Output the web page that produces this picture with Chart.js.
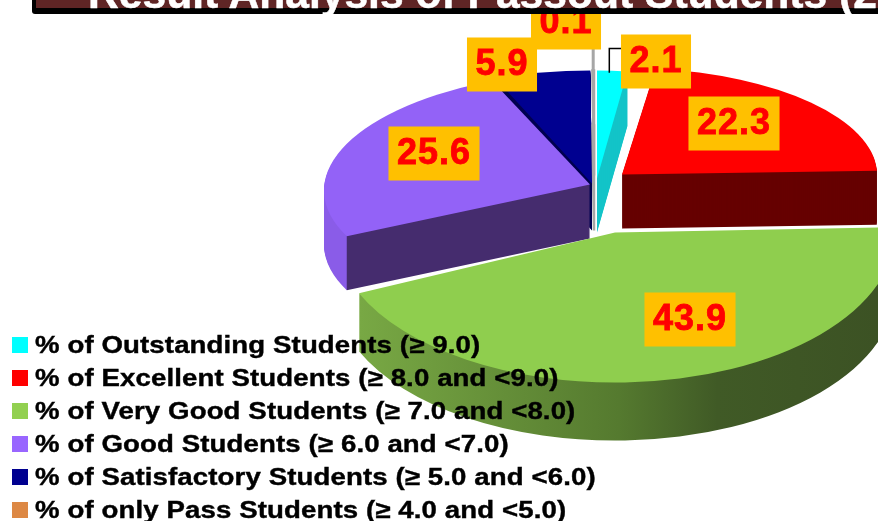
<!DOCTYPE html>
<html>
<head>
<meta charset="utf-8">
<script src="https://cdn.jsdelivr.net/npm/chart.js@4"></script>
<style>
    html, body { margin: 0; background: #fff; overflow: hidden; }
    #wrap { position: relative; width: 878px; height: 521px; overflow: hidden; font-family: "Liberation Sans", Arial, sans-serif; }
    canvas { position: absolute; left: 0; top: 0; }
    #banner { position: absolute; left: 32px; top: 0; width: 846px; height: 14px; background: #000; border-bottom-left-radius: 3px; overflow: hidden; }
    #bannerFill { position: absolute; left: 4px; top: 0; right: 0; height: 8px; background: #5f2525; }
    #title { position: absolute; left: 56px; top: -32px; font-size: 42.6px; line-height: 50px; font-weight: bold; color: #fff; white-space: nowrap; -webkit-text-stroke: 0.5px #fff; }
    #legend { position: absolute; left: 0; top: 0; }
    .row { position: absolute; left: 35px; font-size: 24px; line-height: 33px; height: 33px; font-weight: bold; color: #000; white-space: nowrap; letter-spacing: 0.1px; transform: scaleX(1.15); transform-origin: left center; -webkit-text-stroke: 0.4px #000; }
    .box { position: absolute; left: 12px; width: 16px; height: 16px; }
</style>
</head>
<body>
<div id="wrap">
    <canvas id="grafico" width="878" height="521"></canvas>
    <div id="banner"><div id="bannerFill"></div><div id="title">Result Analysis of Passout Students (2</div></div>
    <div id="legend"></div>
</div>
<script>
const categorias = [
    '% of Outstanding Students (≥ 9.0)',
    '% of Excellent Students (≥ 8.0 and <9.0)',
    '% of Very Good Students (≥ 7.0 and <8.0)',
    '% of Good Students (≥ 6.0 and <7.0)',
    '% of Satisfactory Students (≥ 5.0 and <6.0)',
    '% of only Pass Students (≥ 4.0 and <5.0)'
];
const valores = [2.1, 22.3, 43.9, 25.6, 5.9, 0.1];

const coloresLeyenda = ['#00ffff', '#ff0000', '#92d050', '#9966ff', '#000090', '#dd8844'];
const coloresCara = ['#00ffff', '#ff0000', '#8fce4e', '#9362f7', '#000090', '#a6a6a6'];
const coloresLado = ['#14c4c8', '#660000', '#5f8a35', '#452c6e', '#000050', '#8a8a8a'];

// how each slice sits in the 3D look: shift from the pie centre, ellipse size, skew, thickness
const vistas = [
    { dx: -3, dy: -82, rx: 232, ry: 108, skew: 0, alto: 54 },
    { dx: 22, dy: -86, rx: 255, ry: 107, skew: 0, alto: 54 },
    { dx: 15, dy: -28, rx: 280, ry: 150, skew: 0, alto: 58 },
    { dx: -10, dy: -76, rx: 266, ry: 114, skew: -6, alto: 54 },
    { dx: -8, dy: -77, rx: 262, ry: 113, skew: 0, alto: 47 },
    { dx: -6, dy: -85, rx: 255, ry: 105, skew: 0, alto: 55 }
];
const ordenDibujo = [0, 1, 4, 5, 3, 2];

// label box centre, measured from the slice apex
const etiquetas = [[59, -117], [112, -51], [75, 87], [-156, -31], [-90, -119], [-28, -153]];

function trazarPorcion(ctx, el, v, bajada) {
    const r = el.outerRadius;
    ctx.save();
    ctx.translate(el.x + v.dx, el.y + v.dy + bajada);
    ctx.transform(v.rx / r, v.skew / r, 0, v.ry / r, 0, 0);
    ctx.beginPath();
    ctx.moveTo(0, 0);
    ctx.arc(0, 0, r, el.startAngle, el.endAngle);
    ctx.closePath();
    ctx.restore();
}

function puntoBorde(el, v) {
    const mid = (el.startAngle + el.endAngle) / 2;
    return {
        x: el.x + v.dx + Math.cos(mid) * v.rx,
        y: el.y + v.dy + Math.sin(mid) * v.ry + Math.cos(mid) * v.skew
    };
}

function colorLado(ctx, i) {
    if (i === 2) {
        const g = ctx.createLinearGradient(360, 0, 878, 0);
        g.addColorStop(0, '#78a844');
        g.addColorStop(0.5, '#557a2f');
        g.addColorStop(0.69, '#405a26');
        g.addColorStop(1, '#3c5224');
        return g;
    }
    if (i === 3) {
        // the curved rim of this slice is lit, only the cut face is dark
        const g = ctx.createLinearGradient(320, 0, 360, 0);
        g.addColorStop(0, '#8a5ce8');
        g.addColorStop(0.66, '#8a5ce8');
        g.addColorStop(0.67, coloresLado[3]);
        g.addColorStop(1, coloresLado[3]);
        return g;
    }
    return coloresLado[i];
}

const pie3d = {
    id: 'pie3d',
    beforeDatasetsDraw(chart) {
        const ctx = chart.ctx;
        const arcos = chart.getDatasetMeta(0).data;

        ordenDibujo.forEach(i => {
            const el = arcos[i];
            const v = vistas[i];
            ctx.fillStyle = colorLado(ctx, i);
            for (let d = v.alto; d > 0; d--) {
                trazarPorcion(ctx, el, v, d);
                ctx.fill();
            }
            trazarPorcion(ctx, el, v, 0);
            ctx.fillStyle = coloresCara[i];
            ctx.fill();
            if (i === 5) {
                ctx.strokeStyle = coloresCara[i];
                ctx.lineWidth = 2.5;
                ctx.stroke();
                trazarPorcion(ctx, el, v, v.alto);
                ctx.stroke();
            }
        });

        // leader lines
        const b0 = puntoBorde(arcos[0], vistas[0]);
        const c0 = [arcos[0].x + vistas[0].dx + etiquetas[0][0], arcos[0].y + vistas[0].dy + etiquetas[0][1]];
        ctx.strokeStyle = '#000';
        ctx.lineWidth = 1.5;
        ctx.beginPath();
        ctx.moveTo(b0.x - 3, b0.y + 2);
        ctx.lineTo(b0.x - 3, c0[1] - 13);
        ctx.lineTo(c0[0] - 35, c0[1] - 13);
        ctx.stroke();

        const b5 = puntoBorde(arcos[5], vistas[5]);
        ctx.strokeStyle = '#a6a6a6';
        ctx.lineWidth = 3;
        ctx.beginPath();
        ctx.moveTo(b5.x, b5.y);
        ctx.lineTo(b5.x, 49);
        ctx.stroke();

        // value boxes
        ctx.font = 'bold 36px "Liberation Sans", Arial, sans-serif';
        ctx.letterSpacing = '1px';
        ctx.textAlign = 'center';
        ctx.textBaseline = 'middle';
        valores.forEach((valor, i) => {
            const el = arcos[i];
            const x = el.x + vistas[i].dx + etiquetas[i][0];
            const y = el.y + vistas[i].dy + etiquetas[i][1];
            const texto = valor.toFixed(1);
            const w = ctx.measureText(texto).width + 17;
            ctx.fillStyle = '#ffc000';
            ctx.fillRect(x - w / 2, y - 27, w, 54);
            ctx.fillStyle = '#ff0000';
            ctx.strokeStyle = '#ff0000';
            ctx.lineWidth = 0.8;
            ctx.fillText(texto, x, y + 1);
            ctx.strokeText(texto, x, y + 1);
        });

        return false;
    }
};

const leyenda = document.getElementById('legend');
categorias.forEach((texto, i) => {
    const centro = 345 + i * 33;
    const caja = document.createElement('div');
    caja.className = 'box';
    caja.style.top = (centro - 8) + 'px';
    caja.style.background = coloresLeyenda[i];
    leyenda.appendChild(caja);
    const fila = document.createElement('div');
    fila.className = 'row';
    fila.style.top = (centro - 17) + 'px';
    fila.textContent = texto;
    leyenda.appendChild(fila);
});

new Chart(document.getElementById('grafico'), {
    type: 'pie',
    data: {
        labels: categorias,
        datasets: [{ data: valores, backgroundColor: coloresCara, borderWidth: 0 }]
    },
    options: {
        responsive: false,
        animation: false,
        layout: { padding: { left: 322 } },
        plugins: { legend: { display: false }, tooltip: { enabled: false }, title: { display: false } }
    },
    plugins: [pie3d]
});
</script>
</body>
</html>
